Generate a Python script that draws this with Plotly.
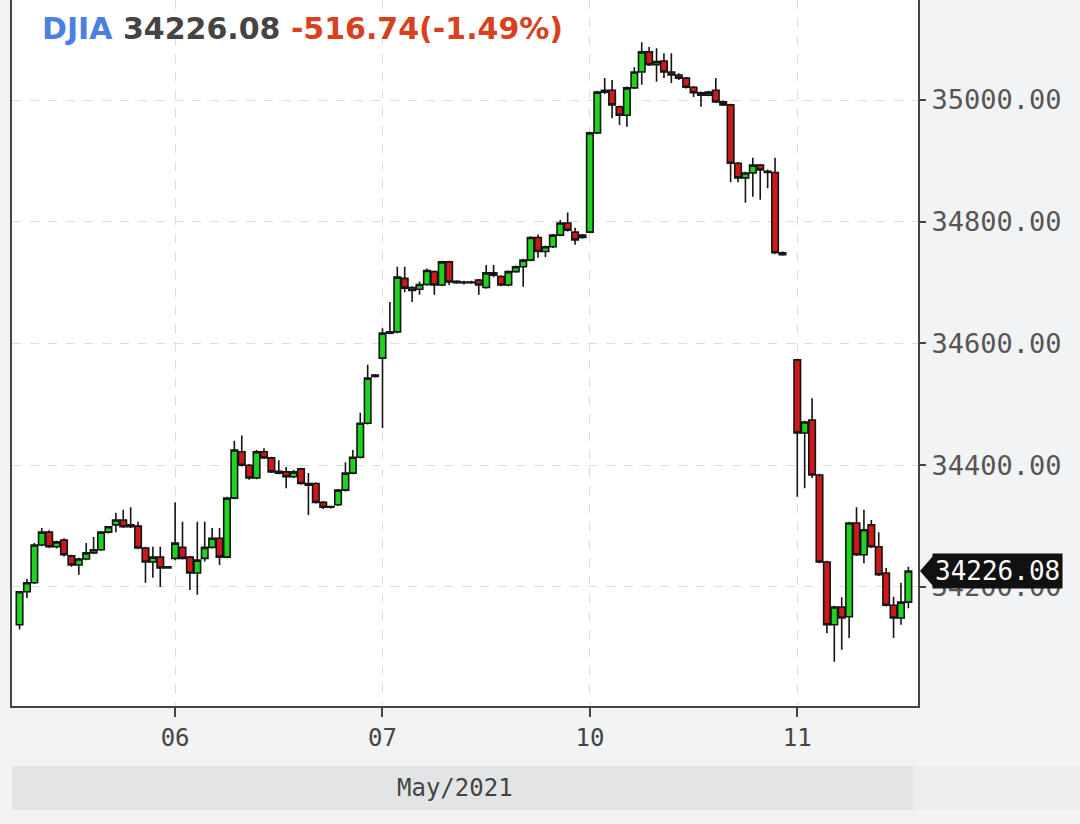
import plotly.graph_objects as go

# ---- data: per-day candles [open, high, low, close] (slot-indexed, 28 slots per day) ----
day_labels = ["06", "07", "10", "11"]
day_tick_slots = [22, 50, 78, 106]

may05_start = 1
may05 = [
    [34138, 34193, 34130, 34192], [34192, 34213, 34182, 34207], [34207, 34272, 34205, 34269],
    [34269, 34297, 34267, 34290], [34290, 34293, 34264, 34266], [34266, 34276, 34263, 34274],
    [34277, 34280, 34250, 34253], [34251, 34253, 34233, 34236], [34236, 34248, 34220, 34246],
    [34246, 34272, 34244, 34256], [34256, 34282, 34254, 34261], [34261, 34292, 34259, 34290],
    [34290, 34300, 34288, 34299], [34302, 34322, 34290, 34310], [34310, 34327, 34297, 34299],
    [34302, 34331, 34297, 34299], [34300, 34307, 34262, 34264], [34264, 34266, 34207, 34241],
    [34241, 34266, 34215, 34249], [34249, 34266, 34200, 34231], [34233, 34234, 34230, 34231],
]

may06_start = 22
may06 = [
    [34247, 34339, 34244, 34272], [34265, 34307, 34245, 34247], [34249, 34251, 34195, 34223],
    [34223, 34307, 34187, 34244], [34247, 34307, 34242, 34265], [34265, 34297, 34263, 34280],
    [34280, 34297, 34236, 34249], [34249, 34348, 34247, 34346], [34346, 34440, 34344, 34425],
    [34422, 34449, 34398, 34400], [34400, 34402, 34376, 34379], [34379, 34425, 34377, 34422],
    [34422, 34428, 34410, 34412], [34412, 34414, 34387, 34389], [34390, 34408, 34385, 34387],
    [34389, 34397, 34362, 34381], [34381, 34392, 34379, 34389], [34394, 34396, 34368, 34370],
    [34370, 34387, 34318, 34367], [34370, 34372, 34337, 34339], [34339, 34341, 34328, 34331],
    [34331, 34333, 34329, 34332], [34335, 34361, 34333, 34359], [34359, 34405, 34357, 34387],
    [34387, 34425, 34385, 34413], [34413, 34486, 34411, 34469], [34469, 34565, 34467, 34543],
    [34548, 34550, 34544, 34546],
]

may07_start = 50
may07 = [
    [34576, 34625, 34461, 34617], [34617, 34668, 34615, 34619], [34619, 34726, 34617, 34709],
    [34707, 34726, 34684, 34691], [34692, 34694, 34668, 34687], [34689, 34702, 34680, 34697],
    [34697, 34723, 34695, 34720], [34718, 34720, 34680, 34696], [34696, 34736, 34694, 34734],
    [34734, 34736, 34696, 34701], [34702, 34704, 34698, 34700], [34700, 34703, 34697, 34701],
    [34701, 34703, 34698, 34700], [34704, 34706, 34680, 34696], [34692, 34729, 34690, 34716],
    [34716, 34729, 34709, 34712], [34710, 34712, 34694, 34696], [34696, 34720, 34694, 34718],
    [34718, 34728, 34716, 34726], [34726, 34739, 34693, 34737], [34737, 34776, 34735, 34774],
    [34774, 34779, 34741, 34751], [34751, 34761, 34742, 34759], [34759, 34780, 34757, 34778],
    [34778, 34803, 34776, 34798], [34798, 34815, 34784, 34786], [34783, 34790, 34762, 34770],
    [34774, 34780, 34772, 34778],
]

may10_start = 78
may10 = [
    [34783, 34948, 34781, 34946], [34946, 35015, 34944, 35013], [35013, 35036, 35010, 35016],
    [35016, 35033, 34970, 34992], [34989, 34991, 34959, 34975], [34975, 35022, 34956, 35020],
    [35020, 35054, 35018, 35046], [35046, 35095, 35025, 35079], [35079, 35087, 35056, 35058],
    [35058, 35085, 35030, 35063], [35064, 35077, 35036, 35046], [35046, 35077, 35028, 35041],
    [35041, 35044, 35033, 35036], [35036, 35038, 35019, 35021], [35021, 35023, 35005, 35012],
    [35012, 35014, 34989, 35008], [35008, 35015, 35006, 35013], [35016, 35036, 34995, 34997],
    [34997, 34999, 34990, 34992], [34992, 34994, 34865, 34896], [34896, 34898, 34865, 34872],
    [34872, 34882, 34831, 34880], [34880, 34905, 34841, 34893], [34893, 34895, 34836, 34885],
    [34883, 34886, 34855, 34881], [34881, 34905, 34747, 34749], [34749, 34751, 34744, 34746],
]

may11_start = 106
may11 = [
    [34573, 34575, 34348, 34453], [34453, 34473, 34362, 34471], [34474, 34510, 34379, 34384],
    [34384, 34386, 34239, 34241], [34241, 34243, 34124, 34138], [34138, 34169, 34077, 34167],
    [34167, 34183, 34097, 34149], [34151, 34307, 34116, 34305], [34305, 34331, 34251, 34253],
    [34253, 34327, 34239, 34294], [34302, 34310, 34264, 34266], [34266, 34290, 34218, 34220],
    [34223, 34231, 34168, 34170], [34170, 34184, 34116, 34149], [34149, 34207, 34138, 34175],
    [34175, 34233, 34165, 34226.08],
]

y_ticks = [34200, 34400, 34600, 34800, 35000]
symbol = "DJIA"
last_price = 34226.08
change_text = "-516.74(-1.49%)"
month_label = "May/2021"

# ---- assemble ----
xs, o, h, l, c = [], [], [], [], []
for start, rows in [(may05_start, may05), (may06_start, may06), (may07_start, may07),
                    (may10_start, may10), (may11_start, may11)]:
    for j, (op, hi, lo, cl) in enumerate(rows):
        xs.append(start + j)
        o.append(op); h.append(hi); l.append(lo); c.append(cl)

fig = go.Figure(go.Candlestick(
    x=xs, open=o, high=h, low=l, close=c,
    increasing=dict(fillcolor="#1fd21f", line=dict(color="#151515", width=1.6)),
    decreasing=dict(fillcolor="#cc1a1a", line=dict(color="#151515", width=1.6)),
    whiskerwidth=0, hoverinfo="skip", showlegend=False,
))

mono = "DejaVu Sans Mono"
fig.update_layout(
    width=1080, height=824,
    margin=dict(l=12, r=162, t=0, b=118),
    paper_bgcolor="#f2f3f5", plot_bgcolor="#ffffff",
    showlegend=False, boxgap=0.12, boxgroupgap=0,
    xaxis=dict(
        range=[-0.02, 122.3], rangeslider=dict(visible=False),
        tickvals=day_tick_slots, ticktext=day_labels,
        showgrid=True, gridcolor="#dddddd", griddash="dash", gridwidth=1,
        showline=True, linecolor="#444444", linewidth=2,
        ticks="outside", ticklen=9, tickcolor="#444444", tickwidth=2,
        tickfont=dict(family=mono, size=24, color="#444444"),
        zeroline=False, fixedrange=True,
    ),
    yaxis=dict(
        range=[34004.4, 35164.3], side="right",
        tickvals=y_ticks, tickformat=".2f",
        showgrid=True, gridcolor="#dddddd", griddash="dash", gridwidth=1,
        showline=True, linecolor="#444444", linewidth=2, mirror=True,
        ticks="outside", ticklen=6, tickcolor="#444444", tickwidth=2,
        tickfont=dict(family=mono, size=27, color="#555555"),
        zeroline=False, fixedrange=True,
    ),
)

# title line
fig.add_annotation(
    xref="paper", yref="paper", x=28 / 906, y=1 - 28 / 706,
    xanchor="left", yanchor="middle", showarrow=False,
    text=(f"<b><span style='color:#4a80e4'>{symbol}</span> "
          f"<span style='color:#444444'>{last_price:.2f}</span> "
          f"<span style='color:#d8401e'>{change_text}</span></b>"),
    font=dict(family="DejaVu Sans", size=30),
)

# month band
fig.add_shape(type="rect", xref="paper", yref="paper",
              x0=0, x1=901 / 906, y0=-104 / 706, y1=-60 / 706,
              fillcolor="#e3e4e6", line=dict(width=0), layer="below")
fig.add_shape(type="rect", xref="paper", yref="paper",
              x0=901 / 906, x1=1068 / 906, y0=-104 / 706, y1=-60 / 706,
              fillcolor="#ecedef", line=dict(width=0), layer="below")
fig.add_annotation(xref="paper", yref="paper", x=443 / 906, y=-82 / 706,
                   xanchor="center", yanchor="middle", showarrow=False,
                   text=month_label, font=dict(family=mono, size=24, color="#444444"))

# last price marker
fig.add_shape(type="path", xref="paper", yref="y",
              xsizemode="pixel", xanchor=1, ysizemode="pixel", yanchor=last_price,
              path="M 2,0 L 15,15 L 15,-15 Z", fillcolor="#111111", line=dict(width=0))
fig.add_annotation(xref="paper", yref="y", x=1, y=last_price,
                   xanchor="left", yanchor="middle", xshift=14, showarrow=False,
                   text=f"{last_price:.2f}", bgcolor="#111111", borderpad=2,
                   font=dict(family=mono, size=26, color="#ffffff"))

fig.write_html(
    "out.html",
    config={"displayModeBar": False, "staticPlot": True},
    post_script="document.body.style.margin='0';document.body.style.background='#f2f3f5';",
)
